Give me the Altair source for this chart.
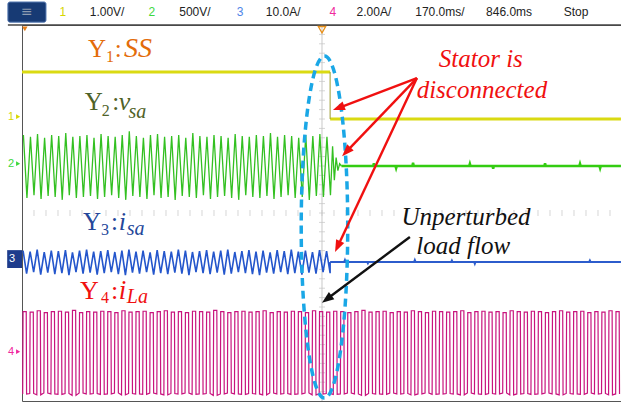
import math
import altair as alt
import pandas as pd

# ---------------- scope screen values ----------------
# time in ms (170 ms/div, 10 div), vertical in divisions (8 div)
grid_t = [0, 170, 340, 510, 680, 850, 1020, 1190, 1360, 1530, 1700]
grid_v = [0, 1, 2, 3, 4, 5, 6, 7, 8]
period_ms = 20          # 50 Hz mains
switch_ms = 873         # instant the stator is disconnected

# channel ground levels (div)
g_ss, g_vsa, g_isa, g_ila = 6.0, 5.0, 2.96, 1.0

# CH1  SS  (logic level, div)
ss_t = [0, 873, 873, 1697]
ss_v = [1, 1, 0, 0]

# CH2  v_sa : positive / negative peak of each cycle before the switch (div)
vsa_hi = [0.66, 0.62, 0.68, 0.60, 0.66, 0.64, 0.70, 0.62, 0.64, 0.66, 0.60,
          0.68, 0.64, 0.62, 0.66, 0.74, 0.64, 0.60, 0.66, 0.68, 0.62, 0.64,
          0.66, 0.60, 0.70, 0.64, 0.62, 0.66, 0.64, 0.60, 0.68, 0.64, 0.62,
          0.66, 0.64, 0.70, 0.62, 0.66, 0.64, 0.60, 0.66, 0.64, 0.68, 0.62]
vsa_lo = [-0.68, -0.62, -0.70, -0.64, -0.66, -0.72, -0.62, -0.68, -0.66, -0.64, -0.70,
          -0.66, -0.62, -0.68, -0.72, -0.64, -0.66, -0.70, -0.62, -0.68, -0.66, -0.72,
          -0.64, -0.66, -0.68, -0.62, -0.70, -0.66, -0.64, -0.68, -0.72, -0.62, -0.66,
          -0.68, -0.64, -0.70, -0.66, -0.62, -0.68, -0.66, -0.72, -0.64, -0.66, -0.62]
vsa_decay_t = [880, 885, 890, 895, 900, 905]
vsa_decay_v = [0.42, -0.30, 0.18, -0.10, 0.05, 0.0]
vsa_spike_t = [997, 1060, 1108, 1269, 1335, 1482, 1581, 1638]
vsa_spike_v = [0.06, -0.05, 0.07, 0.05, -0.06, 0.06, 0.05, -0.05]

# CH3  i_sa : peaks of each cycle before the switch (div)
isa_hi = [0.24, 0.22, 0.26, 0.21, 0.24, 0.23, 0.25, 0.20, 0.24, 0.26, 0.22,
          0.23, 0.25, 0.21, 0.24, 0.26, 0.22, 0.24, 0.20, 0.25, 0.23, 0.22,
          0.26, 0.24, 0.21, 0.23, 0.25, 0.22, 0.24, 0.26, 0.21, 0.23, 0.25,
          0.22, 0.24, 0.20, 0.25, 0.23, 0.26, 0.22, 0.24, 0.21, 0.25, 0.23]
isa_lo = [-0.25, -0.22, -0.27, -0.23, -0.26, -0.24, -0.28, -0.22, -0.25, -0.23, -0.27,
          -0.24, -0.22, -0.26, -0.28, -0.23, -0.25, -0.22, -0.27, -0.24, -0.26, -0.23,
          -0.25, -0.28, -0.22, -0.24, -0.26, -0.23, -0.27, -0.25, -0.22, -0.24, -0.26,
          -0.28, -0.23, -0.25, -0.22, -0.26, -0.24, -0.27, -0.23, -0.25, -0.22, -0.24]
isa_spike_t = [915, 980, 1113, 1218, 1283, 1609]
isa_spike_v = [0.04, -0.03, 0.04, 0.03, -0.04, 0.03]

# CH4  i_La : plateau levels of each cycle over the whole record (div)
ila_hi = [0.90, 0.89, 0.92, 0.88, 0.90, 0.91, 0.89, 0.93, 0.88, 0.90,
          0.89, 0.91, 0.90, 0.88, 0.92, 0.89, 0.90, 0.91, 0.88, 0.90,
          0.92, 0.89, 0.90, 0.88, 0.91, 0.90, 0.89, 0.93, 0.90, 0.88,
          0.90, 0.91, 0.89, 0.90, 0.92, 0.88, 0.90, 0.89, 0.91, 0.90,
          0.88, 0.92, 0.90, 0.89, 0.91, 0.90, 0.88, 0.90, 0.93, 0.89,
          0.90, 0.91, 0.88, 0.90, 0.89, 0.92, 0.90, 0.88, 0.91, 0.90,
          0.89, 0.90, 0.92, 0.88, 0.90, 0.91, 0.89, 0.90, 0.88, 0.92,
          0.90, 0.89, 0.91, 0.90, 0.88, 0.90, 0.92, 0.89, 0.90, 0.91,
          0.88, 0.90, 0.89, 0.92, 0.90]
ila_lo = [-0.85, -0.84, -0.87, -0.83, -0.85, -0.86, -0.84, -0.88, -0.83, -0.85,
          -0.84, -0.86, -0.85, -0.83, -0.87, -0.84, -0.85, -0.86, -0.83, -0.85,
          -0.87, -0.84, -0.85, -0.83, -0.86, -0.85, -0.84, -0.88, -0.85, -0.83,
          -0.85, -0.86, -0.84, -0.85, -0.87, -0.83, -0.85, -0.84, -0.86, -0.85,
          -0.83, -0.87, -0.85, -0.84, -0.86, -0.85, -0.83, -0.85, -0.88, -0.84,
          -0.85, -0.86, -0.83, -0.85, -0.84, -0.87, -0.85, -0.83, -0.86, -0.85,
          -0.84, -0.85, -0.87, -0.83, -0.85, -0.86, -0.84, -0.85, -0.83, -0.87,
          -0.85, -0.84, -0.86, -0.85, -0.83, -0.85, -0.87, -0.84, -0.85, -0.86,
          -0.83, -0.85, -0.84, -0.87, -0.85]

# status bar of the scope
bar_text = ["1", "1.00V/", "2", "500V/", "3", "10.0A/", "4", "2.00A/", "170.0ms/", "846.0ms", "Stop"]
bar_t = [116, 241, 368, 490, 618, 740, 881, 997, 1184, 1380, 1570]
bar_col = ["#D6D600", "#222222", "#3ED83E", "#222222", "#4F86E8", "#222222",
           "#F0289C", "#222222", "#222222", "#222222", "#222222"]

# ---------------- build tables ----------------
rows = []
for k, (h, l) in enumerate(zip(vsa_hi, vsa_lo)):
    rows.append({"t": k * period_ms + 4, "y": g_vsa + h, "g": g_vsa})
    rows.append({"t": k * period_ms + 14, "y": g_vsa + l, "g": g_vsa})
for t, v in zip(vsa_decay_t, vsa_decay_v):
    rows.append({"t": t, "y": g_vsa + v, "g": g_vsa})
vsa_wave = pd.DataFrame(rows)

rows = [{"t": 905, "y": g_vsa}]
for t, v in zip(vsa_spike_t, vsa_spike_v):
    rows += [{"t": t - 2, "y": g_vsa}, {"t": t, "y": g_vsa + v}, {"t": t + 2, "y": g_vsa}]
rows.append({"t": 1697, "y": g_vsa})
vsa_flat = pd.DataFrame(rows)

rows = []
for k, (h, l) in enumerate(zip(isa_hi, isa_lo)):
    rows.append({"t": k * period_ms + 3, "y": g_isa + h})
    rows.append({"t": k * period_ms + 13, "y": g_isa + l})
rows.append({"t": switch_ms, "y": g_isa})
isa_wave = pd.DataFrame(rows)

rows = [{"t": switch_ms, "y": g_isa}]
for t, v in zip(isa_spike_t, isa_spike_v):
    rows += [{"t": t - 2, "y": g_isa}, {"t": t, "y": g_isa + v}, {"t": t + 2, "y": g_isa}]
rows.append({"t": 1697, "y": g_isa})
isa_flat = pd.DataFrame(rows)

rows = []
for k, (h, l) in enumerate(zip(ila_hi, ila_lo)):
    t0 = k * period_ms
    rows += [{"t": t0 + 2, "y": g_ila + l, "g": g_ila}, {"t": t0 + 3, "y": g_ila + h, "g": g_ila},
             {"t": t0 + 12, "y": g_ila + h, "g": g_ila}, {"t": t0 + 13, "y": g_ila + l, "g": g_ila}]
ila_wave = pd.DataFrame(rows)

ss_df = pd.DataFrame({"t": ss_t, "y": [g_ss + v for v in ss_v],
                      "seg": [0, 0, 1, 1]})
ss_edge = pd.DataFrame({"t": [ss_t[1]], "y": [g_ss + ss_v[2]], "y2": [g_ss + ss_v[1]]})

# ---------------- scales / axes ----------------
xs = alt.Scale(domain=[0, 1697.17], nice=False, zero=False)
ys = alt.Scale(domain=[0, 8], nice=False, zero=False)
x_axis = alt.Axis(values=grid_t, grid=True, gridColor="#D9D9D9", gridWidth=1,
                  labels=False, ticks=False, title=None, domainColor="#555555", domainWidth=1.5)
y_axis = alt.Axis(values=grid_v, grid=True, gridColor="#D9D9D9", gridWidth=1,
                  labels=False, ticks=False, title=None, domainColor="#111111", domainWidth=2)


def X(f="t", axis=None):
    return alt.X(f"{f}:Q", scale=xs, axis=axis)


def Y(f="y", axis=None):
    return alt.Y(f"{f}:Q", scale=ys, axis=axis)


# graticule + minor ticks on the centre lines
grid_layer = alt.Chart(pd.DataFrame({"t": [850], "y": [4]})).mark_point(opacity=0).encode(
    x=X(axis=x_axis), y=Y(axis=y_axis))
minor_t = pd.DataFrame({"t": [i * 34 for i in range(1, 50)], "y": [4] * 49})
minor_v = pd.DataFrame({"t": [850] * 39, "y": [i * 0.2 for i in range(1, 40)]})
tick_h = alt.Chart(minor_t).mark_tick(orient="vertical", size=6, thickness=1, color="#C4C4C4").encode(x=X(), y=Y())
tick_v = alt.Chart(minor_v).mark_tick(orient="horizontal", size=6, thickness=1, color="#C4C4C4").encode(x=X(), y=Y())
centre_rule = alt.Chart(pd.DataFrame({"t": [850], "y": [0], "y2": [8]})).mark_rule(
    color="#C8C8C8", strokeWidth=1).encode(x=X(), y=Y(), y2="y2:Q")

# top border line of the screen + status bar
top_line = alt.Chart(pd.DataFrame({"t": [-40], "t2": [1697], "y": [8]})).mark_rule(
    color="#444444", strokeWidth=1.5).encode(x=X(), x2="t2:Q", y=Y())
icon = alt.Chart(pd.DataFrame({"t": [-40], "t2": [68], "y": [8.49], "y2": [8.06]})).mark_rect(
    color="#173A74", stroke="#5A7DB5", strokeWidth=1, cornerRadius=2).encode(x=X(), x2="t2:Q", y=Y(), y2="y2:Q")
icon_txt = alt.Chart(pd.DataFrame({"t": [14], "y": [8.28], "s": ["≡"]})).mark_text(
    color="#8E9BB0", fontSize=14, font="DejaVu Sans", baseline="middle").encode(x=X(), y=Y(), text="s:N")
bar = alt.Chart(pd.DataFrame({"t": bar_t, "y": [8.27] * len(bar_t), "s": bar_text, "c": bar_col})).mark_text(
    fontSize=12, font="Liberation Sans", baseline="middle", align="center").encode(
    x=X(), y=Y(), text="s:N", color=alt.Color("c:N", scale=None))

# trigger markers
trig = alt.Chart(pd.DataFrame({"t": [850], "y": [7.9]})).mark_point(
    shape="triangle-down", size=55, filled=False, color="#E8901A", strokeWidth=1.3, opacity=1).encode(x=X(), y=Y())
trig0 = alt.Chart(pd.DataFrame({"t": [8], "y": [7.92]})).mark_point(
    shape="triangle-down", size=30, filled=True, color="#E8801A", opacity=1).encode(x=X(), y=Y())

# channel markers on the left
mk = pd.DataFrame({"t": [-31, -31, -31], "y": [g_ss + 0.05, g_vsa + 0.05, g_ila + 0.05],
                   "s": ["1", "2", "4"], "c": ["#D8D800", "#3ED83E", "#F0289C"]})
mk_txt = alt.Chart(mk).mark_text(fontSize=11, font="Liberation Sans", baseline="middle").encode(
    x=X(), y=Y(), text="s:N", color=alt.Color("c:N", scale=None))
mk_tri = alt.Chart(mk.assign(t=-11)).mark_point(shape="triangle-right", size=22, filled=True, opacity=1).encode(
    x=X(), y=Y(), color=alt.Color("c:N", scale=None))
box3 = alt.Chart(pd.DataFrame({"t": [-42], "t2": [0], "y": [3.21], "y2": [2.83]})).mark_rect(
    color="#1E3C8C").encode(x=X(), x2="t2:Q", y=Y(), y2="y2:Q")
box3_txt = alt.Chart(pd.DataFrame({"t": [-28], "y": [3.03], "s": ["3"]})).mark_text(
    fontSize=11, font="Liberation Sans", baseline="middle", color="white").encode(x=X(), y=Y(), text="s:N")

# traces
ss_line = alt.Chart(ss_df).mark_line(color="#DADA12", strokeWidth=3).encode(x=X(), y=Y(), detail="seg:N")
ss_rule = alt.Chart(ss_edge).mark_rule(color="#9A9A30", strokeWidth=1).encode(x=X(), y=Y(), y2="y2:Q")
vsa_a = alt.Chart(vsa_wave).mark_area(color="#9BE38E", opacity=0.55).encode(x=X(), y=Y(), y2="g:Q", order="t:Q")
vsa_l = alt.Chart(vsa_wave).mark_line(color="#33C021", strokeWidth=1.3).encode(x=X(), y=Y(), order="t:Q")
vsa_f = alt.Chart(vsa_flat).mark_line(color="#33CC11", strokeWidth=2.5).encode(x=X(), y=Y(), order="t:Q")
isa_l = alt.Chart(isa_wave).mark_line(color="#2456CC", strokeWidth=1.6).encode(x=X(), y=Y(), order="t:Q")
isa_f = alt.Chart(isa_flat).mark_line(color="#2C5CCC", strokeWidth=2).encode(x=X(), y=Y(), order="t:Q")
ila_a = alt.Chart(ila_wave).mark_area(color="#DC8CBC", opacity=0.5).encode(x=X(), y=Y(), y2="g:Q", order="t:Q")
ila_l = alt.Chart(ila_wave).mark_line(color="#C8147E", strokeWidth=1.2).encode(x=X(), y=Y(), order="t:Q")

# channel labels (pieces: main text and subscripts)
lab = pd.DataFrame([
    # Y1:SS
    {"t": 187, "y": 7.32, "s": "Y", "z": 25, "c": "#E36C0A", "i": 0},
    {"t": 238, "y": 7.21, "s": "1", "z": 16, "c": "#E36C0A", "i": 0},
    {"t": 263, "y": 7.32, "s": ":", "z": 25, "c": "#E36C0A", "i": 0},
    {"t": 289, "y": 7.32, "s": "SS", "z": 28, "c": "#E36C0A", "i": 1},
    # Y2:vsa
    {"t": 178, "y": 6.19, "s": "Y", "z": 25, "c": "#4F6228", "i": 0},
    {"t": 226, "y": 6.06, "s": "2", "z": 16, "c": "#4F6228", "i": 0},
    {"t": 256, "y": 6.19, "s": ":", "z": 25, "c": "#4F6228", "i": 0},
    {"t": 274, "y": 6.19, "s": "v", "z": 26, "c": "#4F6228", "i": 1},
    {"t": 302, "y": 6.02, "s": "sa", "z": 20, "c": "#4F6228", "i": 1},
    # Y3:isa
    {"t": 173, "y": 3.64, "s": "Y", "z": 25, "c": "#24479A", "i": 0},
    {"t": 224, "y": 3.53, "s": "3", "z": 16, "c": "#24479A", "i": 0},
    {"t": 252, "y": 3.64, "s": ":", "z": 25, "c": "#24479A", "i": 0},
    {"t": 274, "y": 3.64, "s": "i", "z": 26, "c": "#24479A", "i": 1},
    {"t": 297, "y": 3.53, "s": "sa", "z": 20, "c": "#24479A", "i": 1},
    # Y4:iLa
    {"t": 164, "y": 2.17, "s": "Y", "z": 26, "c": "#F01010", "i": 0},
    {"t": 224, "y": 2.09, "s": "4", "z": 16, "c": "#F01010", "i": 0},
    {"t": 252, "y": 2.17, "s": ":", "z": 26, "c": "#F01010", "i": 0},
    {"t": 274, "y": 2.17, "s": "i", "z": 27, "c": "#F01010", "i": 1},
    {"t": 297, "y": 2.09, "s": "La", "z": 20, "c": "#F01010", "i": 1},
])
lab_n = alt.Chart(lab[lab.i == 0]).mark_text(font="Liberation Serif", align="left", baseline="alphabetic").encode(
    x=X(), y=Y(), text="s:N", size=alt.Size("z:Q", scale=None), color=alt.Color("c:N", scale=None))
lab_i = alt.Chart(lab[lab.i == 1]).mark_text(font="Liberation Serif", fontStyle="italic", align="left",
                                             baseline="alphabetic").encode(
    x=X(), y=Y(), text="s:N", size=alt.Size("z:Q", scale=None), color=alt.Color("c:N", scale=None))

notes = pd.DataFrame([
    {"t": 1300, "y": 7.11, "s": "Stator is", "c": "#F01010"},
    {"t": 1303, "y": 6.45, "s": "disconnected", "c": "#F01010"},
    {"t": 1258, "y": 3.745, "s": "Unperturbed", "c": "#111111"},
    {"t": 1250, "y": 3.13, "s": "load flow", "c": "#111111"},
])
notes_l = alt.Chart(notes).mark_text(font="Liberation Serif", fontStyle="italic", fontSize=25, align="center",
                                     baseline="alphabetic").encode(
    x=X(), y=Y(), text="s:N", color=alt.Color("c:N", scale=None))

# arrows
PX_T = 170 / 60.0
PX_Y = 47.0
arrows = [
    (1119, 6.87, 881, 6.19, "#F01010"),
    (1119, 6.87, 907, 5.21, "#F01010"),
    (1119, 6.87, 887, 3.17, "#F01010"),
    (1099, 3.49, 850, 2.09, "#111111"),
]
shaft, head = [], []
for t1, y1, t2, y2, c in arrows:
    dx = (t2 - t1) / PX_T
    dy = -(y2 - y1) * PX_Y
    L = math.hypot(dx, dy)
    ang = math.degrees(math.atan2(dx, -dy)) % 360
    back = 7.0
    te = t2 - dx / L * back * PX_T
    ye = y2 + dy / L * back / PX_Y
    shaft.append({"t": t1, "y": y1, "t2": te, "y2": ye, "c": c})
    head.append({"t": t2, "y": y2, "a": ang, "c": c})
shaft_l = alt.Chart(pd.DataFrame(shaft)).mark_rule(strokeWidth=2.4).encode(
    x=X(), y=Y(), x2="t2:Q", y2="y2:Q", color=alt.Color("c:N", scale=None))
head_l = alt.Chart(pd.DataFrame(head)).mark_point(
    shape="M0,0 L0.75,2 L-0.75,2 Z", size=144, filled=True, opacity=1).encode(
    x=X(), y=Y(), angle=alt.Angle("a:Q", scale=None), color=alt.Color("c:N", scale=None))

# dashed ellipse around the switching instant
ell_path = ("M0,-1 C0.0751,-1 0.136,-0.5523 0.136,0 C0.136,0.5523 0.0751,1 0,1 "
            "C-0.0751,1 -0.136,0.5523 -0.136,0 C-0.136,-0.5523 -0.0751,-1 0,-1 Z")
ellipse = alt.Chart(pd.DataFrame({"t": [857], "y": [3.7]})).mark_point(
    shape=ell_path, size=342 ** 2, filled=False, color="#1AA7E6", strokeWidth=3.5,
    strokeDash=[8, 5], opacity=1).encode(x=X(), y=Y())

chart = alt.layer(
    grid_layer, centre_rule, tick_h, tick_v, top_line, icon, icon_txt, bar, trig, trig0,
    mk_txt, mk_tri, box3, box3_txt,
    ss_line, ss_rule, vsa_a, vsa_l, vsa_f, isa_l, isa_f, ila_a, ila_l,
    lab_n, lab_i, notes_l, ellipse, shaft_l, head_l,
).properties(
    width=599, height=376,
    padding={"left": 22, "top": 25, "right": 0, "bottom": 3},
    autosize=alt.AutoSizeParams(type="none"),
    background="white",
).configure_view(stroke="#555555", strokeWidth=1)

chart.save("out.html", embed_options={"renderer": "svg", "actions": False})
